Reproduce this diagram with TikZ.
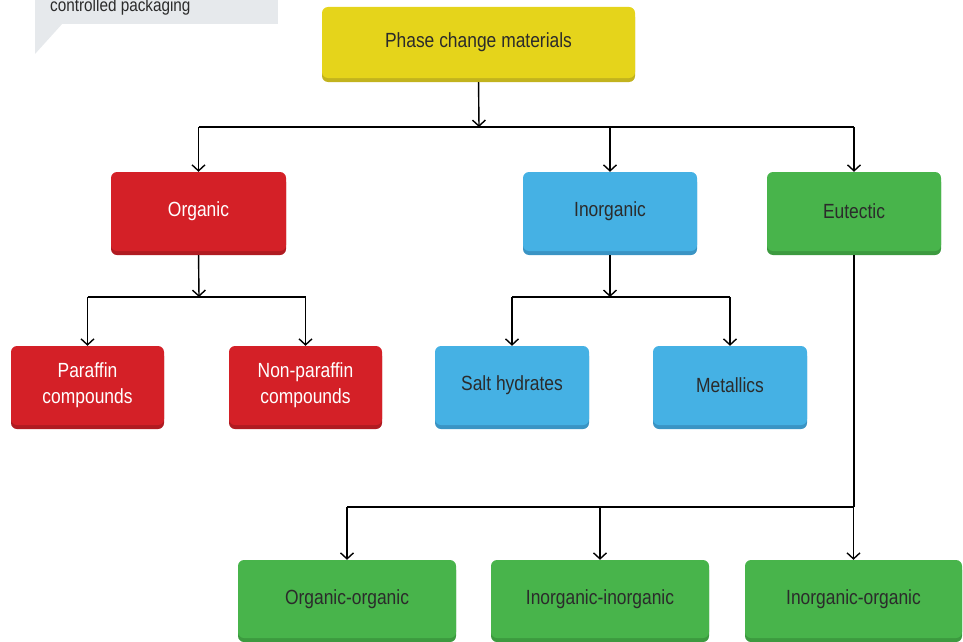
\documentclass[tikz,border=0pt]{standalone}
\usepackage{fontspec}
\setmainfont{Liberation Sans}[FakeStretch=0.85]
\usetikzlibrary{arrows.meta,shadows}
\definecolor{ylw}{HTML}{E5D41B}
\definecolor{ylwd}{HTML}{C2B31E}
\definecolor{rd}{HTML}{D42027}
\definecolor{rdd}{HTML}{B01B21}
\definecolor{bl}{HTML}{45B1E4}
\definecolor{bld}{HTML}{3A94C4}
\definecolor{gr}{HTML}{48B44B}
\definecolor{grd}{HTML}{3C9A3F}
\definecolor{callg}{HTML}{E6E9EC}
\definecolor{txt}{HTML}{2B2B2B}
\tikzset{
  boxbase/.style={rounded corners=6pt, inner sep=0pt, align=center,
    font=\fontsize{20.5}{26}\selectfont, text=txt},
  yb/.style={boxbase, fill=ylw, drop shadow={shadow xshift=0pt, shadow yshift=-4pt, fill=ylwd, opacity=1}},
  rb/.style={boxbase, fill=rd, text=white, drop shadow={shadow xshift=0pt, shadow yshift=-4pt, fill=rdd, opacity=1}},
  bb/.style={boxbase, fill=bl, drop shadow={shadow xshift=0pt, shadow yshift=-4pt, fill=bld, opacity=1}},
  gb/.style={boxbase, fill=gr, drop shadow={shadow xshift=0pt, shadow yshift=-4pt, fill=grd, opacity=1}},
  conn/.style={line width=1.4pt, black},
  arr/.style={conn, -{Straight Barb[length=6pt,width=13pt,line width=1.4pt]}},
}
\begin{document}
\begin{tikzpicture}[x=1pt,y=-1pt]
\useasboundingbox (0,0) rectangle (963,642);
% callout
\fill[callg] (35,-10) rectangle (278,24);
\fill[callg] (35,23) -- (63,23) -- (35,54) -- cycle;
\node[anchor=base west, inner sep=0pt, text=txt, font=\fontsize{18}{22}\selectfont] (call) at (50,12) {controlled packaging};
% nodes
\node[yb, minimum width=313pt, minimum height=71pt] (pcm) at (478.5,42.5) {Phase change materials};
\node[rb, minimum width=175pt, minimum height=79pt] (org) at (198.5,211.5) {Organic};
\node[bb, minimum width=174pt, minimum height=79pt] (inorg) at (610,211.5) {Inorganic};
\node[gb, minimum width=174pt, minimum height=79pt] (eut) at (854,211.5) {Eutectic};
\node[rb, minimum width=153pt, minimum height=79pt] (par) at (87.5,385.5) {Paraffin\\compounds};
\node[rb, minimum width=153pt, minimum height=79pt] (nonpar) at (305.5,385.5) {Non-paraffin\\compounds};
\node[bb, minimum width=154pt, minimum height=79pt] (salt) at (512,385.5) {Salt hydrates};
\node[bb, minimum width=154pt, minimum height=79pt] (met) at (730,385.5) {Metallics};
\node[gb, minimum width=218pt, minimum height=78pt] (oo) at (347,599) {Organic-organic};
\node[gb, minimum width=218pt, minimum height=78pt] (ii) at (600,599) {Inorganic-inorganic};
\node[gb, minimum width=217pt, minimum height=78pt] (io) at (853.5,599) {Inorganic-organic};
% connectors
\coordinate (j1) at (479,127);
\coordinate (j2a) at (199,297);
\coordinate (j2b) at (610,297);
\coordinate (j3) at (853,507);
\draw[arr, shorten <=4pt] (pcm.south) -- (j1);
\draw[conn] (org.north |- j1) -- (eut.north |- j1);
\draw[arr] (org.north |- j1) -- (org.north);
\draw[arr] (inorg.north |- j1) -- (inorg.north);
\draw[arr] (eut.north |- j1) -- (eut.north);
\draw[arr, shorten <=4pt] (org.south) -- (j2a);
\draw[conn] (par.north |- j2a) -- (nonpar.north |- j2a);
\draw[arr] (par.north |- j2a) -- (par.north);
\draw[arr] (nonpar.north |- j2a) -- (nonpar.north);
\draw[arr, shorten <=4pt] (inorg.south) -- (j2b);
\draw[conn] (salt.north |- j2b) -- (met.north |- j2b);
\draw[arr] (salt.north |- j2b) -- (salt.north);
\draw[arr] (met.north |- j2b) -- (met.north);
\draw[conn, shorten <=4pt] (eut.south) -- (eut.south |- j3);
\draw[conn] (oo.north |- j3) -- (eut.south |- j3);
\draw[arr] (oo.north |- j3) -- (oo.north);
\draw[arr] (ii.north |- j3) -- (ii.north);
\draw[arr] (io.north |- j3) -- (io.north);
\end{tikzpicture}
\end{document}
